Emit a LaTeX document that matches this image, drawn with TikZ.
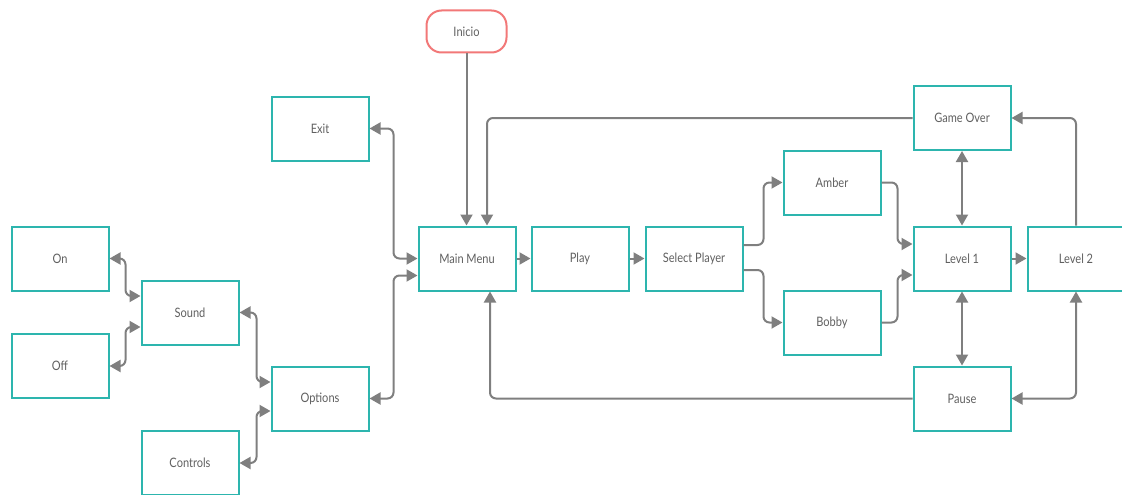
\documentclass[tikz,border=0pt]{standalone}
\usepackage{fontspec}
\setmainfont{Lato}[FakeStretch=0.85]
\usetikzlibrary{arrows.meta}
\definecolor{teal1}{HTML}{2DB5AE}
\definecolor{salmon}{HTML}{F27878}
\definecolor{conn}{HTML}{7F7F7F}
\definecolor{txt}{HTML}{606060}
\tikzset{
  box/.style={draw=teal1, line width=2pt, fill=white, minimum width=97pt, minimum height=64pt, inner sep=0pt, text=txt, font=\fontsize{13}{15}\selectfont},
  startbox/.style={draw=salmon, line width=2pt, fill=white, rounded corners=15pt, minimum width=80pt, minimum height=42pt, inner sep=0pt, text=txt, font=\fontsize{13}{15}\selectfont},
  conn/.style={draw=conn, line width=2pt, rounded corners=6pt},
  tip/.style={-{Triangle[length=11pt,width=12pt]}},
  btip/.style={{Triangle[length=11pt,width=12pt]}-{Triangle[length=11pt,width=12pt]}}
}
\begin{document}
\begin{tikzpicture}[x=1pt,y=-1pt]
\useasboundingbox (0,0) rectangle (1122,495);
\clip (0,0) rectangle (1122,495);
\node[startbox] (inicio) at (466.5,31.5) {Inicio};
\node[box] (on) at (60,258.5) {On};
\node[box] (off) at (60,366) {Off};
\node[box] (sound) at (190,312.5) {Sound};
\node[box] (controls) at (190,463) {Controls};
\node[box] (options) at (320,398.5) {Options};
\node[box] (exit) at (320,128.5) {Exit};
\node[box] (main) at (467,258.5) {Main Menu};
\node[box] (play) at (580,258.5) {Play};
\node[box] (select) at (694,258.5) {Select Player};
\node[box] (amber) at (832,182.5) {Amber};
\node[box] (bobby) at (832,322.5) {Bobby};
\node[box] (l1) at (962,258.5) {Level 1};
\node[box] (l2) at (1076,258.5) {Level 2};
\node[box] (go) at (962,118) {Game Over};
\node[box] (pause) at (962,398.5) {Pause};

% Inicio -> Main Menu
\draw[conn,tip] (inicio.south) -- (inicio.south |- main.north);
% Game Over -> Main Menu
\draw[conn,tip] (go.west) -| ([xshift=20pt]main.north);
% Pause -> Main Menu
\draw[conn,tip] (pause.west) -| ([xshift=23pt]main.south);
% Exit <-> Main Menu
\draw[conn,btip] (exit.east) -- ++(24,0) |- (main.west);
% Options <-> Main Menu
\draw[conn,btip] (options.east) -- ++(24,0) |- ([yshift=-17pt]main.west);
% Sound <-> Options
\draw[conn,btip] (sound.east) -- ++(17,0) |- ([yshift=16.5pt]options.west);
% Controls <-> Options
\draw[conn,btip] (controls.east) -- ++(17,0) |- ([yshift=-12.5pt]options.west);
% On <-> Sound
\draw[conn,btip] (on.east) -- ++(16,0) |- ([yshift=16.5pt]sound.west);
% Off <-> Sound
\draw[conn,btip] (off.east) -- ++(16,0) |- ([yshift=-14.5pt]sound.west);
% main flow
\draw[conn,tip] (main.east) -- (play.west);
\draw[conn,tip] (play.east) -- (select.west);
\draw[conn,tip] ([yshift=13.5pt]select.east) -- ++(20,0) |- (amber.west);
\draw[conn,tip] ([yshift=-11.5pt]select.east) -- ++(20,0) |- (bobby.west);
\draw[conn,tip] (amber.east) -- ++(16,0) |- ([yshift=14.5pt]l1.west);
\draw[conn,tip] (bobby.east) -- ++(16,0) |- ([yshift=-16.5pt]l1.west);
\draw[conn,btip] (l1.north) -- (go.south);
\draw[conn,btip] (l1.south) -- (pause.north);
\draw[conn,tip] (l1.east) -- (l2.west);
\draw[conn,tip] (l2.north) |- (go.east);
\draw[conn,btip] (l2.south) |- (pause.east);
\end{tikzpicture}
\end{document}
